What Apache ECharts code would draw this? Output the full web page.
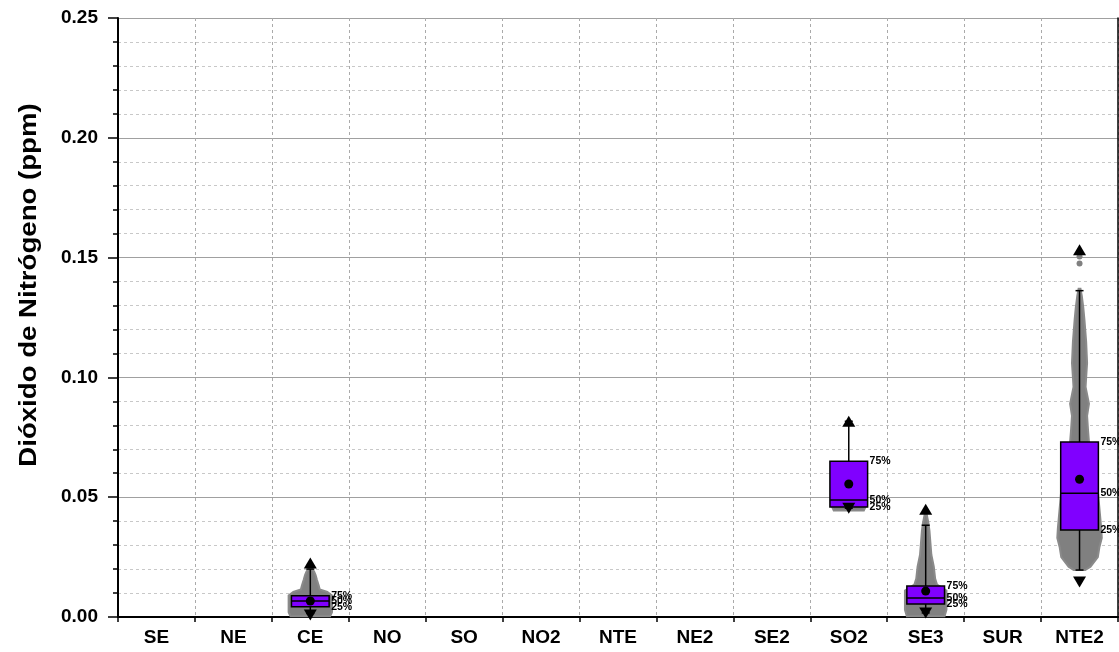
<!DOCTYPE html>
<html><head><meta charset="utf-8">
<script src="https://cdn.jsdelivr.net/npm/echarts@6/dist/echarts.min.js"></script>
<style>html,body{margin:0;padding:0;background:#fff}#c{width:1119px;height:652px}</style>
</head><body><div id="c"></div>
<script>
const categories = ['SE','NE','CE','NO','SO','NO2','NTE','NE2','SE2','SO2','SE3','SUR','NTE2'];
const yTickLabels = ['0.00','0.05','0.10','0.15','0.20','0.25'];
const minVals     = [null,null,0.0008,null,null,null,null,null,null,0.0454,0.0017,null,0.0146];
const whiskerLow  = [null,null,0.0015,null,null,null,null,null,null,0.0454,0.0017,null,0.0196];
const q1Vals      = [null,null,0.0043,null,null,null,null,null,null,0.0459,0.0054,null,0.0363];
const medianVals  = [null,null,0.0067,null,null,null,null,null,null,0.0488,0.0079,null,0.0517];
const q3Vals      = [null,null,0.0089,null,null,null,null,null,null,0.0650,0.0129,null,0.0730];
const meanVals    = [null,null,0.0067,null,null,null,null,null,null,0.0555,0.0108,null,0.0575];
const whiskerHigh = [null,null,0.0200,null,null,null,null,null,null,0.0817,0.0383,null,0.1362];
const maxVals     = [null,null,0.0225,null,null,null,null,null,null,0.0817,0.0450,null,0.1533];
// gray point cloud outlines: [value, relative half-width (1 = box half-width)]
const cloudCE   = [[0.0003,1.05],[0.002,1.15],[0.009,1.15],[0.0105,0.9],[0.0115,0.5],[0.013,0.45],[0.0155,0.35],[0.0175,0.28],[0.019,0.2],[0.0205,0.05]];
const cloudSO2  = [[0.0445,0.8],[0.0462,0.9]];
const cloudSE3  = [[0.0003,1.0],[0.003,1.1],[0.011,1.1],[0.0135,0.6],[0.016,0.5],[0.021,0.43],[0.026,0.3],[0.031,0.25],[0.036,0.2],[0.039,0.15],[0.043,0.05]];
const cloudNTE2 = [[0.0196,0.3],[0.021,0.58],[0.025,0.97],[0.029,1.05],[0.033,1.18],[0.037,1.15],[0.050,1.0],[0.070,0.8],[0.073,0.5],[0.078,0.45],[0.084,0.4],[0.089,0.5],[0.096,0.32],[0.100,0.35],[0.106,0.4],[0.115,0.35],[0.124,0.26],[0.129,0.2],[0.134,0.12],[0.137,0.05]];
const clouds = {2: cloudCE, 9: cloudSO2, 10: cloudSE3, 12: cloudNTE2};
const outliers = {12: [0.1475, 0.1505]};

const FONT = 'Liberation Sans, Arial, sans-serif';
const chart = echarts.init(document.getElementById('c'), null, {renderer:'canvas'});

function renderItem(params, api) {
  const i = api.value(0);
  const bw = api.size([1, 0])[0];
  const hw = bw * 0.245;
  const cx = api.coord([i, 0])[0];
  const Y = v => api.coord([i, v])[1];
  const ch = [];
  const cl = clouds[i];
  if (cl) {
    const left = cl.map(p => [cx - p[1]*hw, Y(p[0])]);
    const right = cl.slice().reverse().map(p => [cx + p[1]*hw, Y(p[0])]);
    ch.push({type:'polygon', shape:{points:left.concat(right)}, style:{fill:'#808080', stroke:'#8a8a8a', lineWidth:2}});
  }
  (outliers[i] || []).forEach(v => ch.push({type:'circle', shape:{cx:cx, cy:Y(v), r:3}, style:{fill:'#808080'}}));
  const ls = {stroke:'#000', lineWidth:1.5};
  ch.push({type:'line', shape:{x1:cx,y1:Y(q3Vals[i]),x2:cx,y2:Y(whiskerHigh[i])}, style:ls});
  ch.push({type:'line', shape:{x1:cx,y1:Y(q1Vals[i]),x2:cx,y2:Y(whiskerLow[i])}, style:ls});
  ch.push({type:'line', shape:{x1:cx-4,y1:Y(whiskerHigh[i]),x2:cx+4,y2:Y(whiskerHigh[i])}, style:ls});
  ch.push({type:'line', shape:{x1:cx-4,y1:Y(whiskerLow[i]),x2:cx+4,y2:Y(whiskerLow[i])}, style:ls});
  const yt = Y(q3Vals[i]), yb = Y(q1Vals[i]);
  ch.push({type:'rect', shape:{x:cx-hw, y:yt, width:2*hw, height:yb-yt}, style:{fill:'#8000ff', stroke:'#000', lineWidth:1.5}});
  const ym = Y(medianVals[i]);
  ch.push({type:'line', shape:{x1:cx-hw,y1:ym,x2:cx+hw,y2:ym}, style:ls});
  ch.push({type:'circle', shape:{cx:cx, cy:Y(meanVals[i]), r:4.5}, style:{fill:'#000'}});
  const ymax = Y(maxVals[i]), ymin = Y(minVals[i]);
  ch.push({type:'polygon', shape:{points:[[cx-6.5,ymax+5.5],[cx+6.5,ymax+5.5],[cx,ymax-5.5]]}, style:{fill:'#000'}});
  ch.push({type:'polygon', shape:{points:[[cx-6.5,ymin-5.5],[cx+6.5,ymin-5.5],[cx,ymin+5.5]]}, style:{fill:'#000'}});
  const tx = cx + hw + 2;
  [['75%', yt], ['50%', ym], ['25%', yb]].forEach(t => ch.push({type:'text', x:tx, y:t[1], style:{text:t[0], font:'bold 10.5px ' + FONT, fill:'#000', verticalAlign:'middle', align:'left'}}));
  return {type:'group', children:ch};
}

const dataIdx = categories.map((c, i) => i).filter(i => q3Vals[i] !== null);

chart.setOption({
  animation:false,
  grid:{left:118, right:1, top:18, bottom:35},
  graphic:[{type:'text', x:29, y:285, rotation:Math.PI/2, scaleX:1.15, scaleY:1,
    style:{text:'Dióxido de Nitrógeno (ppm)', font:'bold 24px ' + FONT, fill:'#000', align:'center', verticalAlign:'middle'}}],
  xAxis:[{
    type:'category', data:categories, boundaryGap:true,
    axisLine:{lineStyle:{color:'#000', width:2}},
    axisTick:{show:true, length:5, interval:0, lineStyle:{color:'#000', width:1.5}},
    axisLabel:{interval:0, margin:11, color:'#000', fontWeight:'bold', fontSize:19, fontFamily:FONT},
    splitLine:{show:true, interval:0, lineStyle:{color:'#aaa', type:[3,3], width:1}}
  },{
    type:'category', data:categories, position:'top',
    axisLine:{lineStyle:{color:'#000', width:1.5}}, axisTick:{show:false}, axisLabel:{show:false}, splitLine:{show:false}
  }],
  yAxis:[{
    type:'value', min:0, max:0.25, interval:0.05,
    axisLine:{show:true, lineStyle:{color:'#000', width:2}},
    axisTick:{show:true, length:10, lineStyle:{color:'#000', width:1.5}},
    minorTick:{show:true, splitNumber:5, length:5, lineStyle:{color:'#000', width:1.5}},
    axisLabel:{margin:20, color:'#000', fontWeight:'bold', fontSize:19, fontFamily:FONT, formatter:(v) => yTickLabels[Math.round(v/0.05)]},
    splitLine:{show:true, lineStyle:{color:'#a0a0a0', width:1}},
    minorSplitLine:{show:true, lineStyle:{color:'#c8c8c8', type:[3,3], width:1}}
  },{
    type:'value', min:0, max:0.25, interval:0.05, position:'right',
    axisLine:{show:true, lineStyle:{color:'#000', width:1.5}}, axisTick:{show:false}, axisLabel:{show:false}, splitLine:{show:false}
  }],
  series:[{
    type:'custom', renderItem:renderItem, xAxisIndex:0, yAxisIndex:0,
    encode:{x:0, y:1}, clip:false,
    data:dataIdx.map(i => [i, q3Vals[i]]), z:5
  }]
});
</script></body></html>
